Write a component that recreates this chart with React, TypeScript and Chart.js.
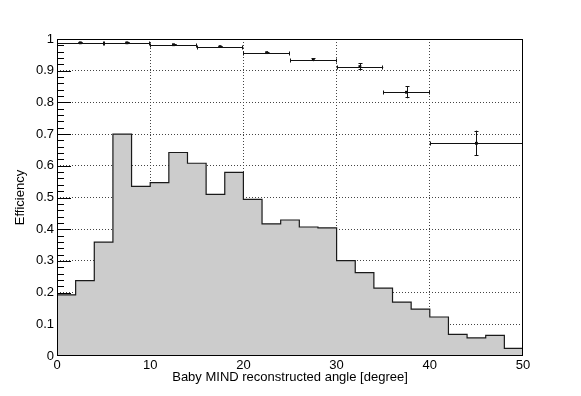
import React, { useEffect, useRef } from "react";
import { Chart, registerables } from "chart.js";

Chart.register(...registerables);

// Histogram (reconstructed angle distribution), 2-degree bins
const binLow = [0, 2, 4, 6, 8, 10, 12, 14, 16, 18, 20, 22, 24, 26, 28, 30, 32, 34, 36, 38, 40, 42, 44, 46, 48];
const binUpperEdge = 50;
const histValues = [
  0.193, 0.238, 0.359, 0.700, 0.535, 0.547, 0.642, 0.608, 0.510, 0.579,
  0.494, 0.417, 0.429, 0.407, 0.404, 0.301, 0.263, 0.214, 0.170, 0.148,
  0.123, 0.068, 0.057, 0.065, 0.024,
];

// Efficiency points with bin ranges and errors
const effLow = [0, 5, 10, 15, 20, 25, 30, 35, 40];
const effHigh = [5, 10, 15, 20, 25, 30, 35, 40, 50];
const effCenter = [2.5, 7.5, 12.5, 17.5, 22.5, 27.5, 32.5, 37.5, 45];
const effValue = [0.988, 0.988, 0.982, 0.976, 0.957, 0.935, 0.913, 0.832, 0.671];
const effError = [0.002, 0.002, 0.002, 0.002, 0.003, 0.005, 0.010, 0.019, 0.040];

const xTickValues = [0, 10, 20, 30, 40, 50];
const xTitle = "Baby MIND reconstructed angle [degree]";
const yTitle = "Efficiency";

const FONT = "'Liberation Sans', Arial, Helvetica, sans-serif";

const isMajorY = (v: number) => Math.round(v * 50) % 5 === 0;

const innerTicksPlugin = {
  id: "innerTicks",
  beforeDatasetsDraw(chart: any) {
    const { ctx, chartArea } = chart;
    const y = chart.scales.y;
    ctx.save();
    ctx.strokeStyle = "#000";
    ctx.lineWidth = 1;
    ctx.beginPath();
    for (const t of y.ticks) {
      if (t.value <= 0.001 || t.value >= 0.999) continue;
      const py = Math.round(y.getPixelForValue(t.value)) + 0.5;
      const len = isMajorY(t.value) ? 14 : 7;
      ctx.moveTo(chartArea.left, py);
      ctx.lineTo(chartArea.left + len, py);
    }
    ctx.stroke();
    ctx.restore();
  },
};

const errorBarsAndFramePlugin = {
  id: "errorBarsFrame",
  afterDatasetsDraw(chart: any) {
    const { ctx, chartArea } = chart;
    const xs = chart.scales.x;
    const ys = chart.scales.y;
    ctx.save();
    ctx.strokeStyle = "#111";
    ctx.lineWidth = 1;
    ctx.beginPath();
    for (let i = 0; i < effCenter.length; i++) {
      const x1 = xs.getPixelForValue(effLow[i]);
      const x2 = xs.getPixelForValue(effHigh[i]);
      const xc = Math.round(xs.getPixelForValue(effCenter[i])) + 0.5;
      const yc = Math.round(ys.getPixelForValue(effValue[i])) + 0.5;
      const yTop = ys.getPixelForValue(effValue[i] + effError[i]);
      const yBot = ys.getPixelForValue(effValue[i] - effError[i]);
      // horizontal bar
      ctx.moveTo(x1, yc);
      ctx.lineTo(x2, yc);
      // end caps
      ctx.moveTo(Math.round(x1) + 0.5, yc - 2);
      ctx.lineTo(Math.round(x1) + 0.5, yc + 2);
      ctx.moveTo(Math.round(x2) - 0.5, yc - 2);
      ctx.lineTo(Math.round(x2) - 0.5, yc + 2);
      // vertical error
      ctx.moveTo(xc, yTop);
      ctx.lineTo(xc, yBot);
      ctx.moveTo(xc - 2, Math.round(yTop) + 0.5);
      ctx.lineTo(xc + 2, Math.round(yTop) + 0.5);
      ctx.moveTo(xc - 2, Math.round(yBot) - 0.5);
      ctx.lineTo(xc + 2, Math.round(yBot) - 0.5);
    }
    ctx.stroke();

    // frame
    ctx.strokeStyle = "#000";
    ctx.lineWidth = 1;
    const l = Math.round(chartArea.left) + 0.5;
    const r = Math.round(chartArea.right) - 0.5;
    const t = Math.round(chartArea.top) + 0.5;
    const b = Math.round(chartArea.bottom) - 0.5;
    ctx.strokeRect(l, t, r - l, b - t);
    ctx.restore();
  },
};

export default function App() {
  const canvasRef = useRef<HTMLCanvasElement | null>(null);

  useEffect(() => {
    if (!canvasRef.current) return;
    const histData = binLow.map((x, i) => ({ x, y: histValues[i] }));
    histData.push({ x: binUpperEdge, y: histValues[histValues.length - 1] });
    const effData = effCenter.map((x, i) => ({ x, y: effValue[i] }));

    const chart = new Chart(canvasRef.current, {
      type: "line",
      data: {
        datasets: [
          {
            label: "angle",
            data: histData,
            stepped: "before",
            borderColor: "#1a1a1a",
            borderWidth: 1.2,
            backgroundColor: "#cccccc",
            fill: "origin",
            pointRadius: 0,
            tension: 0,
          },
          {
            label: "efficiency",
            data: effData,
            showLine: false,
            pointStyle: "rect",
            pointRadius: 2,
            pointBackgroundColor: "#000",
            pointBorderColor: "#000",
            pointBorderWidth: 0,
          },
        ],
      } as any,
      options: {
        responsive: false,
        animation: false,
        events: [],
        layout: { padding: { left: 0, right: 58, top: 39, bottom: 0 } },
        plugins: {
          legend: { display: false },
          tooltip: { enabled: false },
        },
        scales: {
          x: {
            type: "linear",
            min: 0,
            max: 50,
            afterFit: (s: any) => {
              s.height = 40;
            },
            afterBuildTicks: (s: any) => {
              s.ticks = xTickValues.map((v) => ({ value: v }));
            },
            ticks: {
              color: "#000",
              font: { family: FONT, size: 13 },
              padding: 2,
              maxRotation: 0,
              autoSkip: false,
              callback: (v: any) => String(v),
            },
            grid: {
              drawTicks: false,
              color: (c: any) =>
                c.tick && c.tick.value > 0 && c.tick.value < 50 ? "#444" : "rgba(0,0,0,0)",
              lineWidth: 1,
            },
            border: { display: false, dash: [1, 2] },
            title: {
              display: true,
              text: xTitle,
              color: "#000",
              font: { family: FONT, size: 13 },
              padding: { top: 0, bottom: 11 },
            },
          },
          y: {
            type: "linear",
            min: 0,
            max: 1,
            afterFit: (s: any) => {
              s.width = 57;
            },
            ticks: {
              stepSize: 0.02,
              autoSkip: false,
              color: "#000",
              font: { family: FONT, size: 13 },
              padding: 3,
              callback: (v: any) => {
                const n = Number(v);
                if (!isMajorY(n)) return "";
                if (Math.abs(n) < 1e-9) return "0";
                if (Math.abs(n - 1) < 1e-9) return "1";
                return n.toFixed(1);
              },
            },
            grid: {
              drawTicks: false,
              color: (c: any) => {
                const v = c.tick ? c.tick.value : 0;
                return isMajorY(v) && v > 0.05 && v < 0.95 ? "#444" : "rgba(0,0,0,0)";
              },
              lineWidth: 1,
            },
            border: { display: false, dash: [1, 2] },
            title: {
              display: true,
              text: yTitle,
              color: "#000",
              font: { family: FONT, size: 13 },
              padding: { top: 12.5, bottom: 0 },
            },
          },
        },
      } as any,
      plugins: [innerTicksPlugin, errorBarsAndFramePlugin],
    });
    return () => chart.destroy();
  }, []);

  return (
    <div style={{ position: "fixed", left: 0, top: 0, width: 581, height: 396, background: "#fff" }}>
      <canvas ref={canvasRef} width={581} height={396} style={{ display: "block" }} />
    </div>
  );
}
